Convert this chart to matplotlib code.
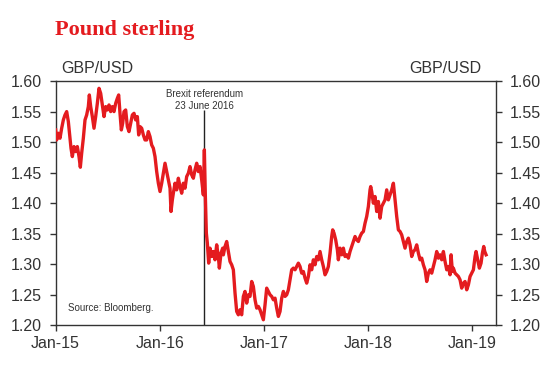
import matplotlib
matplotlib.use("Agg")
import matplotlib.pyplot as plt

plt.rcParams['font.family'] = ['Liberation Sans', 'DejaVu Sans']

# years since 1 Jan 2015, GBP/USD
t_years = [
    0.0016, 0.0112, 0.0272, 0.0432, 0.0592, 0.0752, 0.0912, 0.1072, 0.1232, 0.1391,
    0.1487, 0.1615, 0.1775, 0.1935, 0.2095, 0.2255, 0.2383, 0.2511, 0.2671, 0.2831,
    0.2991, 0.3151, 0.3247, 0.3375, 0.3535, 0.3695, 0.3855, 0.4015, 0.4175, 0.4335,
    0.4495, 0.4655, 0.4815, 0.4975, 0.5135, 0.5294, 0.5454, 0.5614, 0.5774, 0.5934,
    0.6062, 0.6190, 0.6318, 0.6446, 0.6574, 0.6734, 0.6894, 0.7054, 0.7214, 0.7374,
    0.7534, 0.7694, 0.7854, 0.7982, 0.8110, 0.8270, 0.8430, 0.8590,
    0.8749, 0.8909, 0.9069, 0.9229, 0.9389, 0.9549, 0.9709, 0.9869, 1.0029, 1.0189,
    1.0349, 1.0509, 1.0669, 1.0829, 1.0989, 1.1084, 1.1212, 1.1308, 1.1468, 1.1628,
    1.1788, 1.1948, 1.2108, 1.2268, 1.2428, 1.2588, 1.2748, 1.2908, 1.3068, 1.3228,
    1.3388, 1.3548, 1.3708, 1.3868, 1.4028, 1.4188, 1.4284, 1.4380, 1.4475, 1.4571,
    1.4699, 1.4827, 1.4987, 1.5147, 1.5307, 1.5467, 1.5627, 1.5723, 1.5883, 1.6043,
    1.6107, 1.6267, 1.6427, 1.6587, 1.6747, 1.6907, 1.7067, 1.7227, 1.7387, 1.7546,
    1.7706, 1.7866, 1.8026, 1.8186, 1.8346, 1.8506, 1.8666, 1.8826, 1.8986, 1.9146,
    1.9306, 1.9466, 1.9626, 1.9786, 1.9946, 2.0106, 2.0266, 2.0426, 2.0586, 2.0746,
    2.0906, 2.1066, 2.1226, 2.1386, 2.1546, 2.1706, 2.1866, 2.2026, 2.2185, 2.2345,
    2.2505, 2.2665, 2.2825, 2.2985, 2.3145, 2.3305, 2.3465, 2.3625, 2.3785, 2.3945,
    2.4105, 2.4265, 2.4425,
    2.4584, 2.4744, 2.4904, 2.5064, 2.5224, 2.5384, 2.5544, 2.5704, 2.5864, 2.6024,
    2.6184, 2.6344, 2.6504, 2.6599, 2.6727, 2.6887, 2.7047, 2.7143, 2.7303, 2.7463,
    2.7623, 2.7783, 2.7943, 2.8103, 2.8263, 2.8423, 2.8583, 2.8743, 2.8903, 2.9063,
    2.9223, 2.9383, 2.9543, 2.9702, 2.9862, 3.0022, 3.0182, 3.0246, 3.0342, 3.0502,
    3.0662, 3.0822, 3.0982, 3.1142, 3.1302, 3.1462, 3.1622, 3.1782, 3.1942, 3.2102,
    3.2262, 3.2422, 3.2582, 3.2742, 3.2902, 3.3062,
    3.3221, 3.3381, 3.3541, 3.3701, 3.3861, 3.4021, 3.4181, 3.4341, 3.4501, 3.4661,
    3.4821, 3.4981, 3.5141, 3.5301, 3.5461, 3.5621, 3.5781, 3.5941, 3.6101, 3.6261,
    3.6421, 3.6581, 3.6741, 3.6901, 3.7061, 3.7221, 3.7381, 3.7541, 3.7701, 3.7861,
    3.7957, 3.8084, 3.8180, 3.8340, 3.8500, 3.8660, 3.8820, 3.8980, 3.9140, 3.9300,
    3.9460, 3.9620, 3.9780, 3.9940, 4.0100, 4.0260, 4.0355, 4.0515, 4.0675, 4.0835,
    4.0963, 4.1093, 4.1189, 4.1317,
]
gbpusd = [
    1.5200, 1.5036, 1.5146, 1.5064, 1.5228, 1.5364, 1.5446, 1.5501, 1.5337, 1.5064,
    1.4900, 1.4763, 1.4927, 1.4845, 1.4927, 1.4763, 1.4588, 1.4818, 1.5064, 1.5364,
    1.5446, 1.5583, 1.5774, 1.5583, 1.5419, 1.5228, 1.5419, 1.5637, 1.5883, 1.5801,
    1.5610, 1.5419, 1.5583, 1.5528, 1.5610, 1.5501, 1.5583, 1.5501, 1.5637, 1.5719,
    1.5774, 1.5473, 1.5200, 1.5310, 1.5501, 1.5528, 1.5255, 1.5173, 1.5310, 1.5446,
    1.5473, 1.5364, 1.5419, 1.5118, 1.5255, 1.5228, 1.5118, 1.5036,
    1.5036, 1.5173, 1.5091, 1.4954, 1.4900, 1.4763, 1.4517, 1.4326, 1.4190, 1.4326,
    1.4490, 1.4654, 1.4517, 1.4381, 1.4244, 1.3862, 1.4053, 1.4162, 1.4326, 1.4217,
    1.4408, 1.4271, 1.4162, 1.4326, 1.4244, 1.4435, 1.4490, 1.4599, 1.4463, 1.4408,
    1.4545, 1.4654, 1.4517, 1.4599, 1.4381, 1.4135, 1.4873, 1.4108, 1.3507, 1.3343,
    1.3015, 1.3261, 1.3124, 1.3206, 1.3070, 1.3316, 1.3124, 1.2933, 1.3179, 1.3261,
    1.3151, 1.3288, 1.3370, 1.3206, 1.3042, 1.2988, 1.2906, 1.2523, 1.2223, 1.2168,
    1.2250, 1.2168, 1.2469, 1.2551, 1.2359, 1.2496, 1.2469, 1.2714, 1.2632, 1.2414,
    1.2277, 1.2305, 1.2250, 1.2168, 1.2086, 1.2332, 1.2605, 1.2551, 1.2496, 1.2469,
    1.2414, 1.2441, 1.2277, 1.2141, 1.2223, 1.2441, 1.2551, 1.2469, 1.2496, 1.2578,
    1.2742, 1.2906, 1.2933, 1.2906, 1.2960, 1.3015, 1.2960, 1.2851, 1.2878, 1.2769,
    1.2687, 1.2796, 1.2988,
    1.2906, 1.3070, 1.2988, 1.3124, 1.3070, 1.3206, 1.3070, 1.2960, 1.2824, 1.2878,
    1.2960, 1.3179, 1.3452, 1.3561, 1.3507, 1.3397, 1.3234, 1.3070, 1.3261, 1.3152,
    1.3261, 1.3124, 1.3152, 1.3097, 1.3206, 1.3288, 1.3370, 1.3452, 1.3397, 1.3370,
    1.3452, 1.3507, 1.3534, 1.3670, 1.3780, 1.3944, 1.4217, 1.4271, 1.4189, 1.3998,
    1.4108, 1.3862, 1.4026, 1.3752, 1.3944, 1.3998, 1.4053, 1.4217, 1.4053, 1.4135,
    1.4217, 1.4326, 1.4053, 1.3780, 1.3561, 1.3534,
    1.3479, 1.3370, 1.3261, 1.3370, 1.3425, 1.3315, 1.3124, 1.3206, 1.3234, 1.3315,
    1.3179, 1.3070, 1.3097, 1.2988, 1.2906, 1.2714, 1.2851, 1.2906, 1.2851, 1.2960,
    1.3070, 1.3206, 1.3097, 1.3152, 1.3070, 1.3206, 1.3042, 1.2906, 1.2960, 1.2824,
    1.3152, 1.2878, 1.2933, 1.2851, 1.2824, 1.2796, 1.2742, 1.2605, 1.2687, 1.2714,
    1.2578, 1.2660, 1.2796, 1.2851, 1.2906, 1.3124, 1.3206, 1.3070, 1.2933, 1.3015,
    1.3179, 1.3288, 1.3206, 1.3152,
]

x_ticks = [0, 1, 2, 3, 4]
x_tick_labels = ['Jan-15', 'Jan-16', 'Jan-17', 'Jan-18', 'Jan-19']
y_ticks = [1.20, 1.25, 1.30, 1.35, 1.40, 1.45, 1.50, 1.55, 1.60]
brexit_x = 1.428
brexit_top = 1.552

RED = '#e41b1f'
DARK = '#333333'

fig = plt.figure(figsize=(5.55, 3.69), dpi=100)
ax = fig.add_axes([0.1, 0.1192, 0.7937, 0.6608])

ax.plot(t_years, gbpusd, color=RED, lw=2.4, solid_joinstyle='round', zorder=3)
ax.vlines(brexit_x, 1.20, brexit_top, color='#222222', lw=1.0, zorder=2)

ax.set_xlim(0, 4.227)
ax.set_ylim(1.20, 1.60)
ax.set_xticks(x_ticks)
ax.set_xticklabels(x_tick_labels)
ax.set_yticks(y_ticks)
ax.set_yticklabels([f'{v:.2f}' for v in y_ticks])

for s in ax.spines.values():
    s.set_color(DARK)
    s.set_linewidth(1.0)

ax.tick_params(axis='both', direction='out', length=4, width=1.0, color=DARK,
               labelsize=11.5, labelcolor=DARK)
ax.tick_params(axis='y', left=True, right=True, labelleft=True, labelright=True, pad=6)
ax.tick_params(axis='x', pad=4)

fig.text(0.099, 0.905, 'Pound sterling', family=['Liberation Serif'], fontweight='bold',
         fontsize=16, color=RED, ha='left', va='baseline')
fig.text(0.11, 0.815, 'GBP/USD', fontsize=11.5, color=DARK, ha='left', va='center')
fig.text(0.868, 0.815, 'GBP/USD', fontsize=11.5, color=DARK, ha='right', va='center')

ax.text(brexit_x, 1.587, 'Brexit referendum\n23 June 2016', fontsize=7, color=DARK,
        ha='center', va='top', linespacing=1.25)
ax.text(0.12, 1.228, 'Source: Bloomberg.', fontsize=7, color=DARK, ha='left', va='center')

fig.savefig('out.png', dpi=100)
